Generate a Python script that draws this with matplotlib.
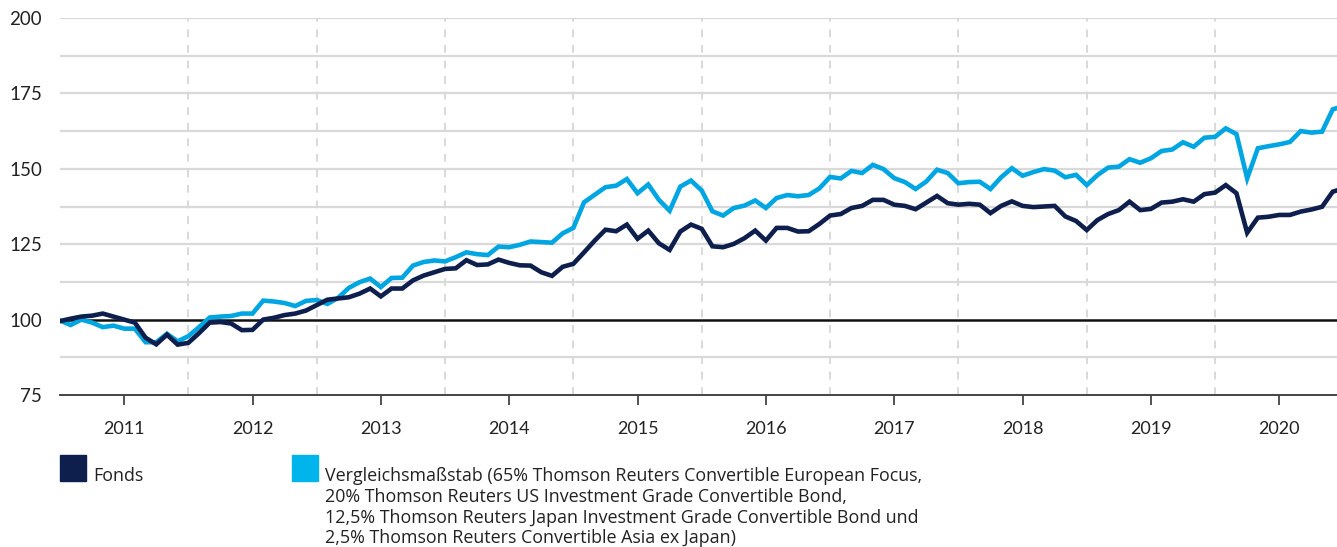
import matplotlib
matplotlib.use("Agg")
import matplotlib.pyplot as plt
from matplotlib.patches import Rectangle
import numpy as np

plt.rcParams['font.family'] = ['Lato', 'DejaVu Sans']

# monthly index values, Jan 2011 onwards
fonds = [99.5, 100.3, 101, 101.3, 102, 101, 100, 99, 94, 91.8, 95, 91.7,
         92.3, 95.5, 99, 99.2, 98.7, 96.5, 96.6, 100, 100.6, 101.5, 102, 103,
         104.8, 106.6, 107, 107.4, 108.6, 110.3, 107.7, 110.3, 110.3, 113, 114.6, 115.7,
         116.8, 117, 119.7, 118.1, 118.3, 119.9, 118.8, 118, 117.9, 115.7, 114.5, 117.5,
         118.5, 122.3, 126.2, 129.8, 129.3, 131.5, 126.8, 129.5, 125.3, 123.1, 129.2, 131.5,
         130.1, 124.3, 124, 125.1, 127, 129.5, 126.2, 130.4, 130.4, 129.2, 129.3, 131.7,
         134.5, 135, 137, 137.7, 139.7, 139.7, 138.1, 137.7, 136.6, 138.8, 141, 138.6,
         138.1, 138.4, 138.1, 135.3, 137.7, 139.2, 137.7, 137.3, 137.5, 137.7, 134.2, 132.7,
         129.7, 133, 135, 136.3, 139.1, 136.3, 136.7, 138.8, 139.1, 139.9, 139.1, 141.6,
         142.1, 144.6, 141.9, 128.8, 133.8, 134.1, 134.7, 134.7, 135.8, 136.5, 137.4, 142.4, 143.5]

benchmark = [99.7, 98.2, 100, 99, 97.5, 98, 97, 97, 92.5, 92.5, 95.3, 92.8,
             94.5, 97.5, 100.7, 101, 101.2, 102, 102, 106.3, 106, 105.5, 104.5, 106.2,
             106.5, 105.2, 107.2, 110.5, 112.4, 113.6, 110.8, 113.8, 113.9, 117.9, 119.1, 119.6,
             119.3, 120.7, 122.3, 121.7, 121.4, 124.2, 124, 124.8, 125.9, 125.7, 125.5, 128.6,
             130.4, 138.9, 141.4, 143.9, 144.4, 146.6, 141.9, 144.8, 139.7, 136.1, 144.1, 146.1,
             142.8, 135.9, 134.5, 137, 137.8, 139.5, 137, 140.3, 141.3, 140.9, 141.3, 143.5,
             147.3, 146.8, 149.3, 148.6, 151.3, 149.9, 146.9, 145.6, 143.3, 145.8, 149.7, 148.6,
             145.2, 145.6, 145.7, 143.3, 147.2, 150.2, 147.7, 148.9, 149.9, 149.4, 147.2, 148,
             144.6, 147.9, 150.4, 150.7, 153.2, 152, 153.5, 155.9, 156.4, 158.8, 157.3, 160.3,
             160.6, 163.4, 161.5, 146.8, 156.8, 157.5, 158.1, 158.9, 162.5, 162, 162.3, 169.7, 170.8]

years = ['2011', '2012', '2013', '2014', '2015', '2016', '2017', '2018', '2019', '2020']
y_ticks = [75, 100, 125, 150, 175, 200]
label_fonds = 'Fonds'
label_bench_lines = ['Vergleichsmaßstab (65% Thomson Reuters Convertible European Focus,',
                     '20% Thomson Reuters US Investment Grade Convertible Bond,',
                     '12,5% Thomson Reuters Japan Investment Grade Convertible Bond und',
                     '2,5% Thomson Reuters Convertible Asia ex Japan)']

c_fonds = '#0e1f4d'
c_bench = '#00a6e2'
grid_c = '#d9d9d9'
text_c = '#222222'

W, H = 1337, 547
fig = plt.figure(figsize=(W / 100, H / 100), dpi=100)
ax = fig.add_axes([60 / W, (H - 395) / H, 1277 / W, (395 - 18) / H])

months = np.arange(len(fonds))
ax.set_xlim(0, 119.4)
ax.set_ylim(75, 200)

# grid
for v in np.arange(87.5, 200.1, 12.5):
    if v == 100:
        continue
    ax.axhline(v, color=grid_c, lw=1.6, zorder=1)
for k in range(1, 10):
    ax.axvline(12 * k, color=grid_c, lw=1.4, ls=(0, (4, 4)), zorder=1)
ax.axhline(100, color='#111111', lw=1.8, zorder=2)

ax.plot(months, benchmark, color=c_bench, lw=3.3, zorder=3, solid_joinstyle='miter')
ax.plot(months, fonds, color=c_fonds, lw=3.3, zorder=4, solid_joinstyle='miter')

ax.set_xticks([12 * k + 6 for k in range(len(years))])
ax.set_xticklabels(years)
ax.set_yticks(y_ticks)
ax.set_yticklabels([str(v) for v in y_ticks])

for s in ['top', 'right', 'left']:
    ax.spines[s].set_visible(False)
ax.spines['bottom'].set_color('#444444')
ax.spines['bottom'].set_linewidth(1.4)
ax.tick_params(axis='x', length=7.5, width=1.3, color='#444444', pad=11,
               labelsize=13, labelcolor=text_c)
ax.tick_params(axis='y', length=0, pad=13, labelsize=13.5, labelcolor=text_c)

# legend
fig.patches.append(Rectangle((60 / W, (H - 481) / H), 26 / W, 26 / H,
                             transform=fig.transFigure, color=c_fonds))
fig.patches.append(Rectangle((292 / W, (H - 481) / H), 26 / W, 26 / H,
                             transform=fig.transFigure, color='#00b4ec'))
leg_font = ['Open Sans', 'DejaVu Sans']
fig.text(93 / W, (H - 481) / H, label_fonds, fontsize=12.9, color=text_c,
         va='baseline', ha='left', family=leg_font)
for j, line in enumerate(label_bench_lines):
    fig.text(325 / W, (H - 481 - 20.8 * j) / H, line, fontsize=12.9, color=text_c,
             va='baseline', ha='left', family=leg_font)

fig.savefig('out.png', dpi=100)
